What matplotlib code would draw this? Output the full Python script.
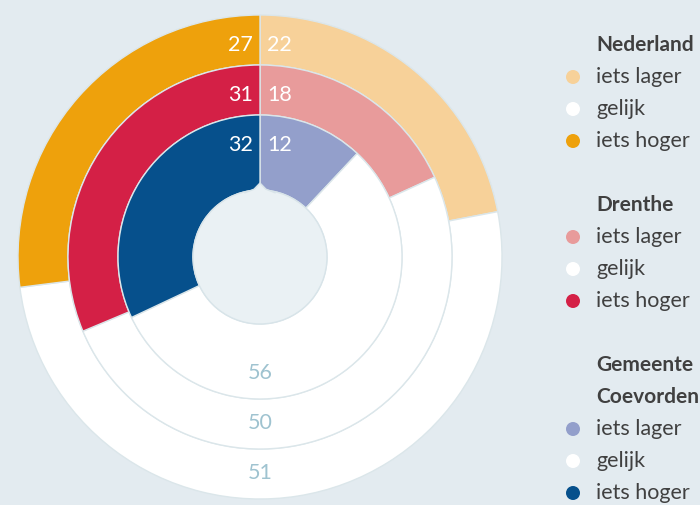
import matplotlib
matplotlib.use("Agg")
import matplotlib.pyplot as plt
from matplotlib.patches import Circle, Polygon

plt.rcParams['font.family'] = ['Lato', 'DejaVu Sans']

categories = ["iets lager", "gelijk", "iets hoger"]
groups = [["Nederland"], ["Drenthe"], ["Gemeente", "Coevorden"]]
nederland = [22, 51, 27]
drenthe = [18, 50, 31]
coevorden = [12, 56, 32]
values = [nederland, drenthe, coevorden]
colors = [
    ["#f7d199", "#ffffff", "#eea10c"],
    ["#e89b9b", "#ffffff", "#d42046"],
    ["#939fcb", "#ffffff", "#06508c"],
]
gelijk_color = "#9fc3d0"

BG = "#e3ebf0"
EDGE = "#dbe6ea"
HOLE = "#eaf1f4"
fig = plt.figure(figsize=(7.0, 5.05), dpi=100, facecolor=BG)
cx, cy, half = 260, 505 - 257, 250
ax = fig.add_axes([(cx - half) / 700, (cy - half) / 505, 2 * half / 700, 2 * half / 505])

outer = [242, 192, 142]
widths = [50, 50, 75]
for vals, cols, r, w in zip(values, colors, outer, widths):
    ax.pie(vals, radius=r, colors=cols, startangle=90, counterclock=False,
           wedgeprops=dict(width=w, edgecolor=EDGE, linewidth=1.0), normalize=True)
ax.set_xlim(-half, half)
ax.set_ylim(-half, half)
ax.set_aspect('equal')
ax.axis('off')
ax.add_patch(Circle((0, 0), 67, facecolor=HOLE, edgecolor="#d8e4e9", lw=1, zorder=5))
# small notch at top of the hole
notch = [(-15, 64), (-6, 67.5), (0, 74), (6, 67.5), (15, 64), (0, 55)]
ax.add_patch(Polygon(notch, closed=True, facecolor=HOLE, edgecolor='none', zorder=5.5))
ax.plot([-15, -6, 0, 6, 15], [64.3, 67.8, 74, 67.8, 64.3], color="#d8e4e9", lw=1,
        zorder=5.6, solid_joinstyle='round')

for vals, r in zip(values, outer):
    rt = r - 30
    ax.text(-7, rt, str(vals[2]), ha='right', va='center', color='white', fontsize=15.5, zorder=6)
    ax.text(7, rt, str(vals[0]), ha='left', va='center', color='white', fontsize=15.5, zorder=6)
    ax.text(0, -(r - 27) - 1, str(vals[1]), ha='center', va='center', color=gelijk_color,
            fontsize=15.5, zorder=6)

# legend
tx, mx = 596, 573
title_y = [45, 205, 365]
step = 32
for title_lines, cols, ty in zip(groups, colors, title_y):
    y = ty
    for line in title_lines:
        fig.text(tx / 700, 1 - y / 505, line, ha='left', va='center', fontsize=15,
                 fontweight='bold', color='#404040')
        y += step
    for cat, c in zip(categories, cols):
        yy = 1 - y / 505
        fig.text(tx / 700, yy, cat, ha='left', va='center', fontsize=15.5, color='#404040')
        fig.patches.append(Circle((mx, yy * 505), 7, transform=None,
                                  facecolor=c, edgecolor='none', figure=fig))
        y += step

fig.savefig("out.png", dpi=100, facecolor=BG)
